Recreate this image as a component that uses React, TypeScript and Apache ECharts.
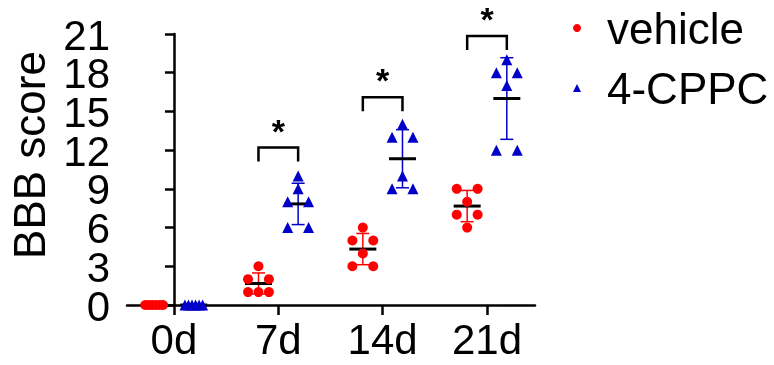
import React, { useEffect, useRef } from "react";
import * as echarts from "echarts";

const categories = ["0d", "7d", "14d", "21d"];
const vehicle = [
  [0, 0, 0, 0, 0, 0],
  [3, 2, 2, 1, 1, 1],
  [6, 5, 5, 4, 3, 3],
  [9, 9, 8, 7, 7, 6],
];
const cppc = [
  [0, 0, 0, 0, 0, 0],
  [10, 9, 8, 8, 6, 6],
  [14, 13, 13, 10, 9, 9],
  [19, 18, 18, 17, 12, 12],
];
const sigHeights: (number | null)[] = [null, 12.2, 16.1, 20.85];
const yTicks = [0, 3, 6, 9, 12, 15, 18, 21];
const yMin = 0;
const yMax = 21;
const yInterval = 3;
const xMin = -0.45;
const xMax = 3.46;

const FONT = "'Liberation Sans', Arial, sans-serif";
const RED = "#FF0000";
const BLUE = "#0000C8";
const GROUP_OFFSET = 0.19;

function mean(a: number[]) {
  return a.reduce((s, v) => s + v, 0) / a.length;
}
function sd(a: number[]) {
  const m = mean(a);
  return Math.sqrt(a.reduce((s, v) => s + (v - m) * (v - m), 0) / (a.length - 1));
}

function swarm(groups: number[][], offset: number) {
  const out: number[][] = [];
  groups.forEach((vals, gi) => {
    const counts = new Map<number, number>();
    vals.forEach((v) => counts.set(v, (counts.get(v) || 0) + 1));
    const seen = new Map<number, number>();
    vals.forEach((v) => {
      const n = counts.get(v)!;
      const k = seen.get(v) || 0;
      seen.set(v, k + 1);
      let dx = 0;
      if (n > 1) {
        const half = n <= 3 ? 0.1 : 0.085;
        dx = -half + (2 * half * k) / (n - 1);
      }
      out.push([gi + offset + dx, v]);
    });
  });
  return out;
}

function stats(groups: number[][], offset: number) {
  return groups.map((vals, gi) => [gi + offset, mean(vals), sd(vals)]);
}

export default function App() {
  const ref = useRef<HTMLDivElement>(null);
  useEffect(() => {
    if (!ref.current) return;
    const chart = echarts.init(ref.current, null, { renderer: "svg" });

    const errRender = (color: string) => (params: any, api: any) => {
      const x = api.value(0);
      const m = api.value(1);
      const s = api.value(2);
      const c = api.coord([x, m]);
      const t = api.coord([x, m + s]);
      const b = api.coord([x, m - s]);
      const children: any[] = [];
      if (s > 0) {
        children.push(
          { type: "line", shape: { x1: c[0], y1: t[1], x2: c[0], y2: b[1] }, style: { stroke: color, lineWidth: 1.5 } },
          { type: "line", shape: { x1: c[0] - 6.5, y1: t[1], x2: c[0] + 6.5, y2: t[1] }, style: { stroke: color, lineWidth: 1.5 } },
          { type: "line", shape: { x1: c[0] - 6.5, y1: b[1], x2: c[0] + 6.5, y2: b[1] }, style: { stroke: color, lineWidth: 1.5 } }
        );
      }
      children.push({
        type: "line",
        shape: { x1: c[0] - 13.5, y1: c[1], x2: c[0] + 13.5, y2: c[1] },
        style: { stroke: "#000", lineWidth: 3 },
      });
      return { type: "group", children };
    };

    const sigData = sigHeights
      .map((h, i) => (h == null ? null : [i, h]))
      .filter((d) => d != null) as number[][];

    const option: any = {
      animation: false,
      grid: { left: 127, right: 239, top: 34, bottom: 60 },
      legend: {
        orient: "vertical",
        left: 568,
        top: 1,
        itemWidth: 8,
        itemHeight: 8,
        itemGap: 16,
        data: ["vehicle", "4-CPPC"],
        textStyle: { fontSize: 44, lineHeight: 44, fontFamily: FONT, color: "#000", padding: [0, 0, 0, 21] },
      },
      xAxis: {
        type: "value",
        min: xMin,
        max: xMax,
        splitLine: { show: false },
        axisLine: { lineStyle: { color: "#000", width: 2.5 } },
        axisTick: { show: true, length: 10, lineStyle: { color: "#000", width: 2.5 }, customValues: [0, 1, 2, 3] },
        axisLabel: {
          customValues: [0, 1, 2, 3],
          formatter: (v: number) => categories[Math.round(v)] ?? "",
          fontSize: 42,
          fontFamily: FONT,
          color: "#000",
          margin: 13,
        },
      },
      yAxis: {
        type: "value",
        min: yMin,
        max: yMax,
        interval: yInterval,
        splitLine: { show: false },
        axisLine: { show: true, lineStyle: { color: "#000", width: 2.5 } },
        axisTick: { show: true, length: 9, lineStyle: { color: "#000", width: 2.5 } },
        axisLabel: { show: false },
      },
      graphic: [
        {
          type: "text",
          x: 29,
          y: 155,
          rotation: Math.PI / 2,
          style: {
            text: "BBB score",
            fontSize: 44,
            fontFamily: FONT,
            fill: "#000",
            textAlign: "center",
            textVerticalAlign: "middle",
          },
        },
      ],
      series: [
        {
          name: "y-labels",
          type: "custom",
          data: yTicks.map((v) => [xMin, v]),
          encode: { x: 0, y: 1 },
          clip: false,
          silent: true,
          renderItem: (params: any, api: any) => {
            const p = api.coord([api.value(0), api.value(1)]);
            return {
              type: "text",
              x: p[0] - 17,
              y: p[1] + 1,
              style: {
                text: String(api.value(1)),
                fontSize: 42,
                fontFamily: FONT,
                fill: "#000",
                align: "right",
                verticalAlign: "middle",
              },
            };
          },
        },
        {
          name: "vehicle-stats",
          type: "custom",
          renderItem: errRender(RED),
          data: stats(vehicle, -GROUP_OFFSET),
          encode: { x: 0, y: 1 },
          clip: false,
          z: 2,
        },
        {
          name: "cppc-stats",
          type: "custom",
          renderItem: errRender(BLUE),
          data: stats(cppc, GROUP_OFFSET),
          encode: { x: 0, y: 1 },
          clip: false,
          z: 2,
        },
        {
          name: "vehicle",
          type: "scatter",
          symbol: "circle",
          symbolSize: 10,
          itemStyle: { color: RED, opacity: 1 },
          data: swarm(vehicle, -GROUP_OFFSET),
          clip: false,
          z: 3,
        },
        {
          name: "4-CPPC",
          type: "scatter",
          symbol: "triangle",
          symbolSize: 11,
          itemStyle: { color: BLUE, opacity: 1 },
          data: swarm(cppc, GROUP_OFFSET),
          clip: false,
          z: 3,
        },
        {
          name: "sig",
          type: "custom",
          data: sigData,
          encode: { x: 0, y: 1 },
          clip: false,
          z: 4,
          renderItem: (params: any, api: any) => {
            const i = api.value(0);
            const h = api.value(1);
            const l = api.coord([i - GROUP_OFFSET, h]);
            const r = api.coord([i + GROUP_OFFSET, h]);
            const drop = 14;
            return {
              type: "group",
              children: [
                {
                  type: "polyline",
                  shape: { points: [[l[0], l[1] + drop], [l[0], l[1]], [r[0], r[1]], [r[0], r[1] + drop]] },
                  style: { stroke: "#000", lineWidth: 2.5, fill: "none" },
                },
                {
                  type: "text",
                  x: (l[0] + r[0]) / 2,
                  y: l[1] - 17,
                  style: {
                    text: "*",
                    fontSize: 34,
                    fontWeight: "bold",
                    fontFamily: FONT,
                    fill: "#000",
                    align: "center",
                    verticalAlign: "middle",
                  },
                },
              ],
            };
          },
        },
      ],
    };
    chart.setOption(option);
    return () => chart.dispose();
  }, []);
  return <div ref={ref} style={{ position: "fixed", left: 0, top: 0, width: 774, height: 365 }} />;
}
